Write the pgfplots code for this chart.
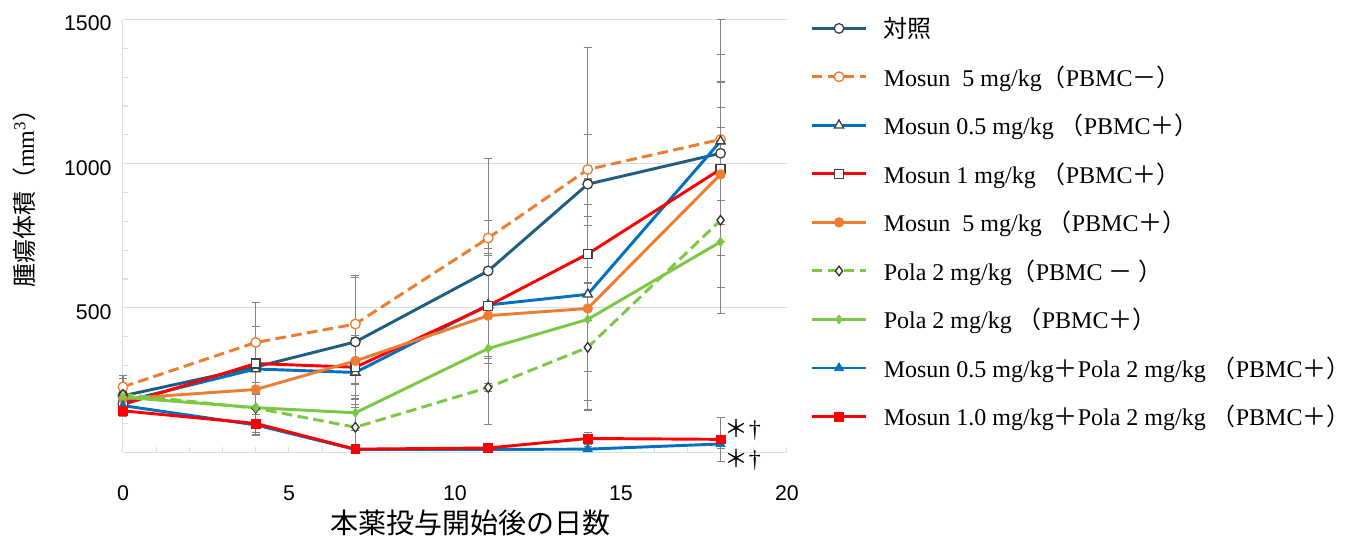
\documentclass[border=0pt]{standalone}
\usepackage{fontspec}
\setmainfont{Liberation Serif}
\newfontfamily\cjk{Noto Sans CJK JP}
\newfontfamily\arial{Liberation Sans}
\usepackage{pgfplots}
\pgfplotsset{compat=1.18}
\usepackage{pgfplotstable}

\definecolor{cteal}{RGB}{31,94,128}
\definecolor{corange}{RGB}{237,125,49}
\definecolor{cblue}{RGB}{0,112,192}
\definecolor{cred}{RGB}{255,0,0}
\definecolor{cgreen}{RGB}{122,200,68}
\definecolor{cgrid}{RGB}{222,222,222}
\definecolor{cerr}{RGB}{130,130,130}

\newcommand{\lp}{{\cjk （}}
\newcommand{\rp}{{\cjk ）}}
\newcommand{\fp}{{\cjk ＋}}
\newcommand{\fm}{{\cjk －}}

\pgfplotstableread{
x y e
0 195 72
4 295 140
7 382 229
11 628 391
14 929 473
18 1036 464
}\tctrl
\pgfplotstableread{
x y e
0 226 30
4 380 140
7 444 160
11 742 60
14 980 120
18 1084 296
}\tmfm
\pgfplotstableread{
x y e
0 175 30
4 288 90
7 276 120
11 510 180
14 547 400
18 1078 206
}\tmhp
\pgfplotstableread{
x y e
0 165 25
4 307 80
7 294 110
11 507 200
14 687 100
18 981 300
}\tmop
\pgfplotstableread{
x y e
0 185 25
4 217 70
7 316 80
11 473 150
14 498 320
18 963 233
}\tmfp
\pgfplotstableread{
x y e
0 200 30
4 152 60
7 86 80
11 224 130
14 363 220
18 804 322
}\tpm
\pgfplotstableread{
x y e
0 190 25
4 154 50
7 136 60
11 359 150
14 460 180
18 729 250
}\tpp
\pgfplotstableread{
x y e
0 161 20
4 94 35
7 9 8
11 9 8
14 10 8
18 28 15
}\tch
\pgfplotstableread{
x y e
0 143 20
4 99 30
7 10 8
11 14 8
14 47 20
18 44 77
}\tco

\begin{document}
\begin{tikzpicture}
\begin{axis}[
  scale only axis, width=498pt, height=324.4pt,
  xmin=0, xmax=20, ymin=0, ymax=1500,
  axis x line*=bottom, axis y line*=left,
  axis line style={draw=cgrid, line width=0.8pt, -},
  xtick={0,5,10,15,20}, minor xtick={1,2,3,4,6,7,8,9,11,12,13,14,16,17,18,19},
  ytick={500,1000,1500}, minor ytick={100,200,300,400,600,700,800,900,1100,1200,1300,1400},
  tick align=inside, major tick length=4pt, minor tick length=4pt,
  tick style={draw=cgrid, line width=0.8pt},
  ymajorgrids, grid style={draw=cgrid, line width=0.8pt},
  ticklabel style={font=\arial\fontsize{16}{19}\selectfont},
  /pgf/number format/assume math mode=true,
  /pgf/number format/1000 sep={},
  xticklabel style={yshift=-22pt},
  yticklabel style={xshift=-5pt, yshift=-3pt},
  xlabel={\cjk 本薬投与開始後の日数},
  xlabel style={font=\fontsize{21}{24}\selectfont, at={(axis description cs:0.523,-0.164)}, anchor=center},
  ylabel={{\cjk 腫瘍体積（}mm\textsuperscript{3}{\cjk ）}},
  ylabel style={font=\fontsize{18}{21}\selectfont, at={(axis description cs:-0.148,0.60)}, anchor=center},
  clip=false,
  legend cell align=left,
  legend image code/.code={\draw[mark repeat=2, mark phase=2, #1] plot coordinates {(0pt,0pt) (20.5pt,0pt) (41pt,0pt)};},
  legend style={draw=none, fill=none, at={(rel axis cs:1.0286,1.018)}, anchor=north west,
    font=\fontsize{18}{21}\selectfont, row sep=15.5pt,
    /tikz/every odd column/.append style={column sep=10pt}},
  ebar/.style={forget plot, draw=none, mark=none,
    error bars/.cd, y dir=both, y explicit,
    error bar style={draw=cerr, line width=0.9pt, solid},
    error mark options={rotate=90, draw=cerr, mark size=3pt, line width=0.8pt}},
  every axis plot/.append style={line width=2.2pt},
]
% error bars first
\addplot[ebar] table[x=x,y=y,y error=e]{\tctrl};
\addplot[ebar] table[x=x,y=y,y error=e]{\tmfm};
\addplot[ebar] table[x=x,y=y,y error=e]{\tmhp};
\addplot[ebar] table[x=x,y=y,y error=e]{\tmop};
\addplot[ebar] table[x=x,y=y,y error=e]{\tmfp};
\addplot[ebar] table[x=x,y=y,y error=e]{\tpm};
\addplot[ebar] table[x=x,y=y,y error=e]{\tpp};
\addplot[ebar] table[x=x,y=y,y error=e]{\tch};
\addplot[ebar] table[x=x,y=y,y error=e]{\tco};

\addplot[cteal, line width=2.2pt, mark=*, mark size=3.6pt, mark options={solid, fill=white, draw=black!75, line width=1pt}] table[x=x,y=y]{\tctrl};
\addlegendentry{{\cjk 対照}}
\addplot[corange, line width=2.2pt, dash pattern=on 8pt off 4pt, mark=*, mark size=3.6pt, mark options={solid, fill=white, draw=corange, line width=1pt}] table[x=x,y=y]{\tmfm};
\addlegendentry{Mosun\ \ 5 mg/kg\lp PBMC\fm\rp}
\addplot[cblue, line width=2.2pt, mark=triangle*, mark size=4pt, mark options={solid, fill=white, draw=black!75, line width=1pt}] table[x=x,y=y]{\tmhp};
\addlegendentry{Mosun 0.5 mg/kg \lp PBMC\fp\rp}
\addplot[cred, line width=2.2pt, mark=square*, mark size=3.3pt, mark options={solid, fill=white, draw=black!75, line width=1pt}] table[x=x,y=y]{\tmop};
\addlegendentry{Mosun 1 mg/kg \lp PBMC\fp\rp}
\addplot[corange, line width=2.2pt, mark=*, mark size=3.6pt, mark options={solid, fill=corange, draw=corange, line width=0.5pt}] table[x=x,y=y]{\tmfp};
\addlegendentry{Mosun\ \ 5 mg/kg \lp PBMC\fp\rp}
\addplot[cgreen, line width=2.2pt, dash pattern=on 8pt off 4pt, mark=diamond*, mark size=3.6pt, mark options={solid, fill=white, draw=black!80, line width=1pt}] table[x=x,y=y]{\tpm};
\addlegendentry{Pola 2 mg/kg\lp PBMC \fm\ \rp}
\addplot[cgreen, line width=2.2pt, mark=diamond*, mark size=3.4pt, mark options={solid, fill=cgreen, draw=cgreen, line width=0.5pt}] table[x=x,y=y]{\tpp};
\addlegendentry{Pola 2 mg/kg \lp PBMC\fp\rp}
\addplot[cblue, line width=2.2pt, mark=triangle*, mark size=4pt, mark options={solid, fill=cblue, draw=cblue, line width=0.5pt}] table[x=x,y=y]{\tch};
\addlegendentry{Mosun 0.5 mg/kg\fp Pola 2 mg/kg \lp PBMC\fp\rp}
\addplot[cred, line width=2.2pt, mark=square*, mark size=3.3pt, mark options={solid, fill=cred, draw=cred, line width=0.5pt}] table[x=x,y=y]{\tco};
\addlegendentry{Mosun 1.0 mg/kg\fp Pola 2 mg/kg \lp PBMC\fp\rp}

\node[font=\fontsize{18}{20}\selectfont, inner sep=0pt] at (axis cs:18.67,76) {{\cjk ＊}†};
\node[font=\fontsize{18}{20}\selectfont, inner sep=0pt] at (axis cs:18.67,-28) {{\cjk ＊}†};

\coordinate (bbl) at (rel axis cs:-0.1852,-0.1988);
\coordinate (btr) at (rel axis cs:1.851,1.0451);
\end{axis}
\pgfresetboundingbox
\path (bbl) rectangle (btr);
\end{tikzpicture}
\end{document}
